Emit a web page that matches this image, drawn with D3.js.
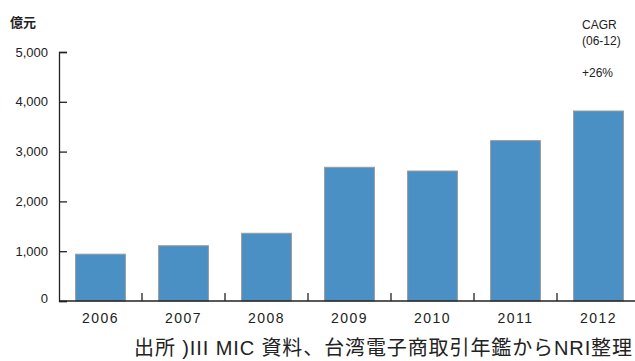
<!DOCTYPE html>
<html>
<head>
<meta charset="utf-8">
<script src="https://cdn.jsdelivr.net/npm/d3@7"></script>
<style>
  body { margin: 0; background: #fff; }
  text { font-family: "Liberation Sans", Arial, sans-serif; fill: #222; }
</style>
</head>
<body>
<div id="chart"></div>
<script>
const years = ["2006", "2007", "2008", "2009", "2010", "2011", "2012"];
const values = [940, 1110, 1360, 2685, 2610, 3220, 3815];
const yTicks = [0, 1000, 2000, 3000, 4000, 5000];
const cagrLines = ["CAGR", "(06-12)", "", "+26%"];

const width = 635;
const height = 361;
const marginLeft = 59;
const baseY = 301;
const topY = 52;

const svg = d3.select("#chart")
  .append("svg")
  .attr("width", width)
  .attr("height", height);

const xScale = d3.scaleBand()
  .domain(years)
  .range([marginLeft, marginLeft + 83 * 7])
  .paddingInner(0.4)
  .paddingOuter(0.2);

const yScale = d3.scaleLinear()
  .domain([0, 5000])
  .range([baseY, topY]);

// bars
svg.selectAll("rect.bar")
  .data(values)
  .enter()
  .append("rect")
  .attr("class", "bar")
  .attr("x", (d, i) => xScale(years[i]))
  .attr("y", d => yScale(d))
  .attr("width", xScale.bandwidth())
  .attr("height", d => baseY - yScale(d))
  .attr("fill", "#4a90c4")
  .attr("stroke", "#9a9a9a")
  .attr("stroke-width", 1);

// y axis
const yAxis = d3.axisRight(yScale)
  .tickValues(yTicks)
  .tickSize(8)
  .tickFormat("");
const yg = svg.append("g")
  .attr("transform", `translate(${marginLeft},0)`)
  .call(yAxis);
yg.select(".domain").attr("stroke", "#222").attr("stroke-width", 1.3);
yg.selectAll(".tick line").attr("stroke", "#222").attr("stroke-width", 1.3);

svg.selectAll("text.ylab")
  .data(yTicks)
  .enter()
  .append("text")
  .attr("class", "ylab")
  .attr("x", 48)
  .attr("y", d => yScale(d) - (d === 0 ? 3 : 0))
  .attr("dy", "0.36em")
  .attr("text-anchor", "end")
  .attr("font-size", 13)
  .text(d => d3.format(",")(d));

// x axis baseline + separators
svg.append("line")
  .attr("x1", marginLeft).attr("x2", width)
  .attr("y1", baseY).attr("y2", baseY)
  .attr("stroke", "#222").attr("stroke-width", 1.3);

const step = xScale.step();
svg.selectAll("line.sep")
  .data(years.slice(1))
  .enter()
  .append("line")
  .attr("class", "sep")
  .attr("x1", d => xScale(d) - xScale.paddingInner() * step / 2)
  .attr("x2", d => xScale(d) - xScale.paddingInner() * step / 2)
  .attr("y1", baseY).attr("y2", baseY - 8)
  .attr("stroke", "#222").attr("stroke-width", 1.3);

svg.selectAll("text.xlab")
  .data(years)
  .enter()
  .append("text")
  .attr("class", "xlab")
  .attr("x", d => xScale(d) + xScale.bandwidth() / 2)
  .attr("y", 323)
  .attr("text-anchor", "middle")
  .attr("font-size", 14)
  .attr("letter-spacing", "1.5px")
  .text(d => d);

// unit label
svg.append("text")
  .attr("x", 10).attr("y", 27)
  .attr("font-size", 13)
  .attr("font-weight", "bold")
  .style("font-family", "'Noto Sans CJK JP', sans-serif")
  .text("億元");

// CAGR note
svg.selectAll("text.cagr")
  .data(cagrLines)
  .enter()
  .append("text")
  .attr("class", "cagr")
  .attr("x", 582)
  .attr("y", (d, i) => 29 + i * 16)
  .attr("font-size", 12)
  .text(d => d);

// source
svg.append("text")
  .attr("x", 632).attr("y", 355)
  .attr("text-anchor", "end")
  .attr("font-size", 20)
  .attr("textLength", 498)
  .attr("lengthAdjust", "spacing")
  .style("font-family", "'Liberation Sans', 'Noto Sans CJK JP', sans-serif")
  .text("出所 )III MIC 資料、台湾電子商取引年鑑からNRI整理");
</script>
</body>
</html>
